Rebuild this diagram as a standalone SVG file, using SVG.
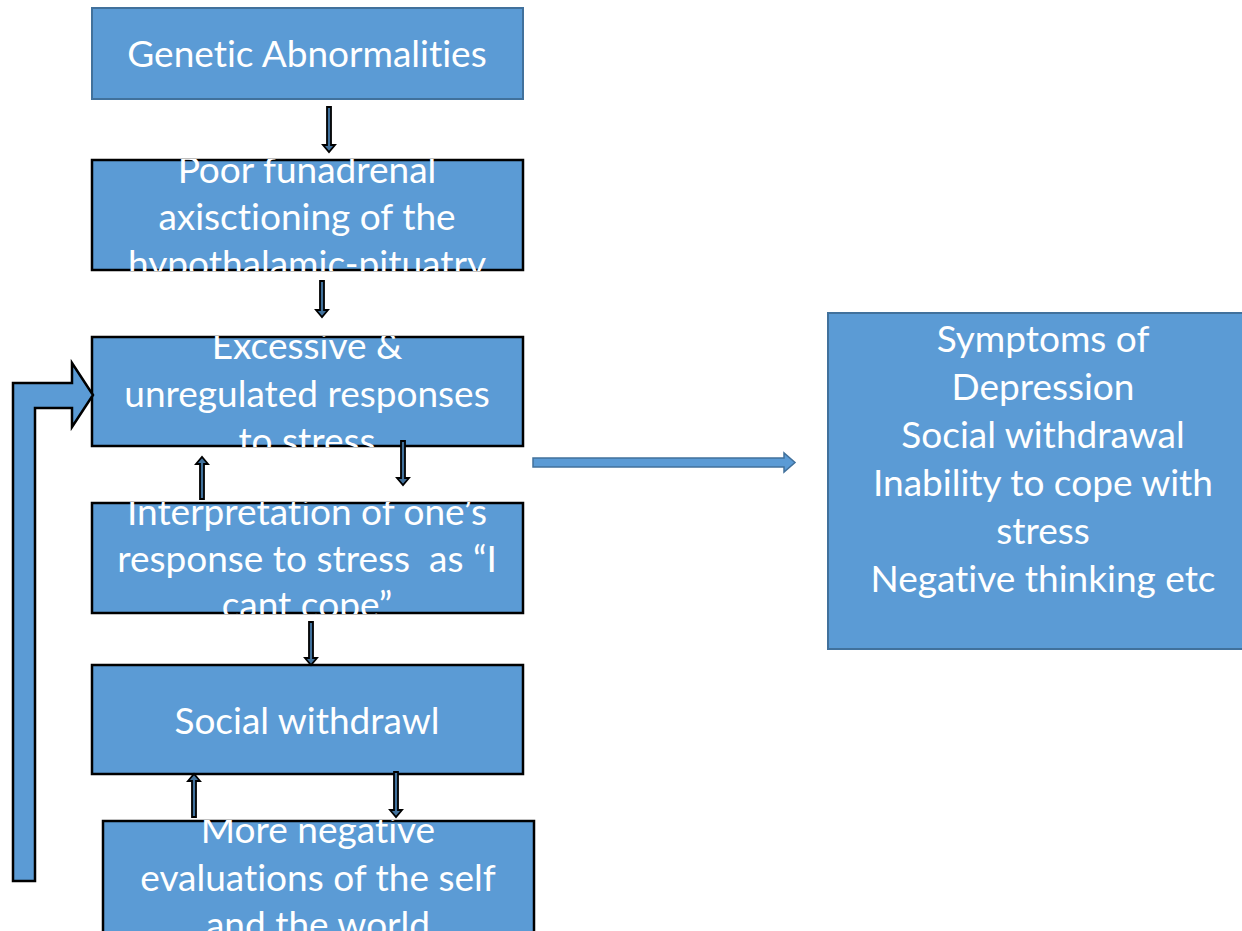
<svg xmlns="http://www.w3.org/2000/svg" width="1242" height="931" viewBox="0 0 1242 931">
<defs>
<style>
.box{fill:#5B9BD5;stroke:#000;stroke-width:2.5}
.bbox{fill:#5B9BD5;stroke:#41719C;stroke-width:2}
.t{font-family:Lato,"Liberation Sans",sans-serif;font-size:37px;fill:#fff;text-anchor:middle;font-variant-ligatures:none}
.arr{fill:#41719C;stroke:#000;stroke-width:1.8}
</style>
<clipPath id="c2"><rect x="91" y="159" width="434" height="112"/></clipPath>
<clipPath id="c3"><rect x="91" y="336" width="434" height="111"/></clipPath>
<clipPath id="c4"><rect x="91" y="502" width="434" height="112"/></clipPath>
<clipPath id="c6"><rect x="102" y="820" width="434" height="120"/></clipPath>
</defs>
<rect width="1242" height="931" fill="#fff"/>
<g id="n1">
<rect class="bbox" x="92" y="8" width="431" height="91"/>
<text class="t" x="307" y="67">Genetic Abnormalities</text>
</g>
<g id="n2">
<rect class="box" x="92" y="160" width="431" height="110"/>
<g clip-path="url(#c2)">
<text class="t" x="307" y="183">Poor funadrenal</text>
<text class="t" x="307" y="230">axisctioning of the</text>
<text class="t" x="307" y="277">hypothalamic-pituatry</text>
</g>
</g>
<g id="n3">
<rect class="box" x="92" y="337" width="431" height="109"/>
<g clip-path="url(#c3)">
<text class="t" x="307" y="359">Excessive &amp;</text>
<text class="t" x="307" y="407">unregulated responses</text>
<text class="t" x="307" y="454">to stress</text>
</g>
</g>
<g id="n4">
<rect class="box" x="92" y="503" width="431" height="110"/>
<g clip-path="url(#c4)">
<text class="t" x="307" y="525">Interpretation of one’s</text>
<text class="t" x="307" y="572" xml:space="preserve">response to stress  as “I</text>
<text class="t" x="307" y="618">cant cope”</text>
</g>
</g>
<g id="n5">
<rect class="box" x="92" y="665" width="431" height="109"/>
<text class="t" x="307" y="734">Social withdrawl</text>
</g>
<g id="n6">
<rect class="box" x="103" y="821" width="431" height="120"/>
<g clip-path="url(#c6)">
<text class="t" x="318" y="843">More negative</text>
<text class="t" x="318" y="891">evaluations of the self</text>
<text class="t" x="318" y="938">and the world</text>
</g>
</g>
<g id="n7">
<rect class="bbox" x="828" y="313" width="420" height="336"/>
<text class="t" x="1043" y="352">Symptoms of</text>
<text class="t" x="1043" y="400">Depression</text>
<text class="t" x="1043" y="448">Social withdrawal</text>
<text class="t" x="1043" y="496">Inability to cope with</text>
<text class="t" x="1043" y="544">stress</text>
<text class="t" x="1043" y="592">Negative thinking etc</text>
</g>
<g id="connectors">
<polygon class="arr" points="327,107 331,107 331,145 335,145 329,152 323,145 327,145"/>
<polygon class="arr" points="320,281 324,281 324,310 328,310 322,317 316,310 320,310"/>
<polygon class="arr" points="200,499 204,499 204,464 208,464 202,457 196,464 200,464"/>
<polygon class="arr" points="401,441 405,441 405,478 409,478 403,485 397,478 401,478"/>
<polygon class="arr" points="309,622 313,622 313,658 317,658 311,665 305,658 309,658"/>
<polygon class="arr" points="192,817 196,817 196,781 200,781 194,774 188,781 192,781"/>
<polygon class="arr" points="394,772 398,772 398,810 402,810 396,817 390,810 394,810"/>
<polygon fill="#5B9BD5" stroke="#41719C" stroke-width="1.5" points="533,458 784,458 784,453 795,462.5 784,472 784,467 533,467"/>
<polygon fill="#5B9BD5" stroke="#000" stroke-width="2.5" points="13,881 13,383 72,383 72,363 93,395 72,427 72,408 35,408 35,881"/>
</g>
</svg>
